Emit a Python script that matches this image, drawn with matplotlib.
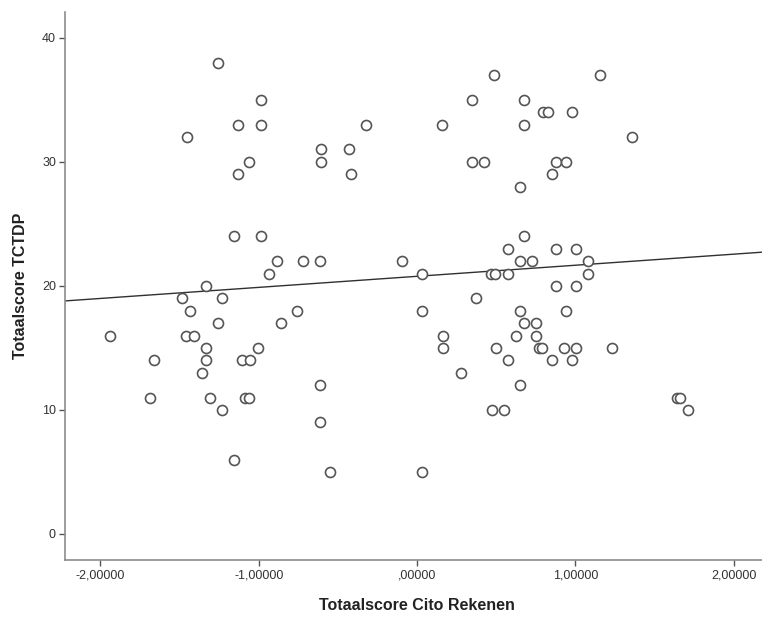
import matplotlib.pyplot as plt
import numpy as np

# Gegevens
cito_rekenen = [
    -1.257,
    0.486, 1.154,
    -0.984, 0.350, 0.678,
    0.796, 0.828, 0.977,
    -1.130, -0.984, -0.322, 0.160, 0.678,
    -1.455, 1.358,
    -0.606, -0.430,
    -1.059, -0.606, 0.350, 0.425, 0.876, 0.941,
    -1.130, -0.419, 0.851,
    0.649,
    -1.158, -0.984, 0.678,
    0.575, 0.876, 1.004,
    -0.882, -0.720, -0.613, -0.097, 0.649, 0.728, 1.078,
    -0.933, 0.034, 0.470, 0.490, 0.575, 1.078,
    -1.335, 0.876, 1.004,
    -1.485, -1.234, 0.375,
    -1.434, -0.760, 0.034, 0.649, 0.941,
    -1.257, -0.857, 0.678, 0.750,
    -1.939, -1.459, -1.409, 0.162, 0.625, 0.750,
    -1.335, -1.002, 0.162, 0.501, 0.770, 0.788, 0.927, 1.004, 1.230,
    -1.659, -1.335, -1.105, -1.055, 0.577, 0.851, 0.977,
    -1.358, 0.276,
    -0.613, 0.649,
    -1.685, -1.308, -1.085, -1.059, 1.640, 1.660,
    -1.234, 0.474, 0.552, 1.710,
    -0.613,
    -1.158,
    -0.552, 0.034,
]
tctdp = [
    38,
    37, 37,
    35, 35, 35,
    34, 34, 34,
    33, 33, 33, 33, 33,
    32, 32,
    31, 31,
    30, 30, 30, 30, 30, 30,
    29, 29, 29,
    28,
    24, 24, 24,
    23, 23, 23,
    22, 22, 22, 22, 22, 22, 22,
    21, 21, 21, 21, 21, 21,
    20, 20, 20,
    19, 19, 19,
    18, 18, 18, 18, 18,
    17, 17, 17, 17,
    16, 16, 16, 16, 16, 16,
    15, 15, 15, 15, 15, 15, 15, 15, 15,
    14, 14, 14, 14, 14, 14, 14,
    13, 13,
    12, 12,
    11, 11, 11, 11, 11, 11,
    10, 10, 10, 10,
    9,
    6,
    5, 5,
]

fit_intercept = 20.775
fit_slope = 0.8925

xticks = [-2, -1, 0, 1, 2]
xtick_labels = ['-2,00000', '-1,00000', ',00000', '1,00000', '2,00000']
yticks = [0, 10, 20, 30, 40]
ytick_labels = ['0', '10', '20', '30', '40']

plt.rcParams['font.family'] = ['Liberation Sans', 'DejaVu Sans']

fig = plt.figure(figsize=(7.62, 6.19), dpi=100)
ax = fig.add_axes([0.0853, 0.0953, 0.9147, 0.886])

xlim = (-2.224, 2.179)
ylim = (-2.1, 42.12)

# Regressielijn over de hele breedte
lx = np.array(xlim)
ax.plot(lx, fit_intercept + fit_slope * lx, color='#303030', lw=1.0, zorder=2)

# Punten als open cirkels
ax.plot(cito_rekenen, tctdp, 'o', ms=7.2, mfc='white', mec='#555555',
        mew=1.2, ls='none', zorder=3)

ax.set_xlim(*xlim)
ax.set_ylim(*ylim)

ax.set_xticks(xticks)
ax.set_xticklabels(xtick_labels)
ax.set_yticks(yticks)
ax.set_yticklabels(ytick_labels)

for s in ['top', 'right']:
    ax.spines[s].set_visible(False)
for s in ['left', 'bottom']:
    ax.spines[s].set_color('#8c8c8c')
    ax.spines[s].set_linewidth(1.2)

ax.tick_params(axis='both', direction='out', length=4.5, width=1.0,
               color='#555555', labelsize=9, labelcolor='#333333', pad=2)

ax.set_xlabel('Totaalscore Cito Rekenen', fontsize=11.5, fontweight='bold',
              color='#222222')
ax.set_ylabel('Totaalscore TCTDP', fontsize=11.5, fontweight='bold',
              color='#222222')
ax.xaxis.set_label_coords(0.505, -0.07)
ax.yaxis.set_label_coords(-0.053, 0.5)

fig.savefig('out.png', dpi=100)
